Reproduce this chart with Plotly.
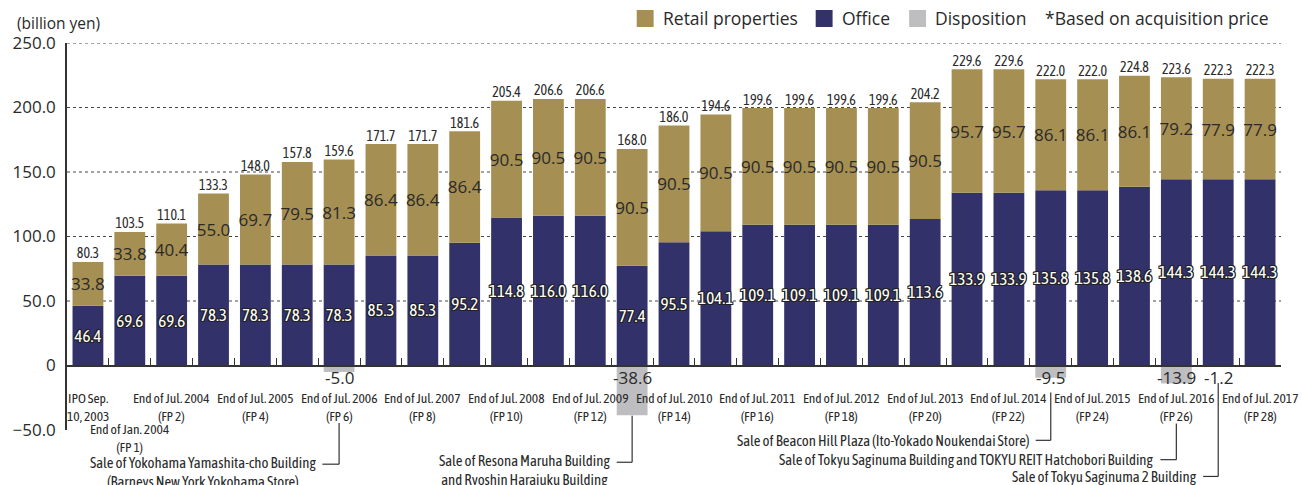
import plotly.graph_objects as go

# ---------------------------------------------------------------- data
periods = [
    "IPO Sep.<br>10, 2003",
    "End of Jan. 2004<br>(FP 1)",
    "End of Jul. 2004<br>(FP 2)",
    "End of Jan. 2005<br>(FP 3)",
    "End of Jul. 2005<br>(FP 4)",
    "End of Jan. 2006<br>(FP 5)",
    "End of Jul. 2006<br>(FP 6)",
    "End of Jan. 2007<br>(FP 7)",
    "End of Jul. 2007<br>(FP 8)",
    "End of Jan. 2008<br>(FP 9)",
    "End of Jul. 2008<br>(FP 10)",
    "End of Jan. 2009<br>(FP 11)",
    "End of Jul. 2009<br>(FP 12)",
    "End of Jan. 2010<br>(FP 13)",
    "End of Jul. 2010<br>(FP 14)",
    "End of Jan. 2011<br>(FP 15)",
    "End of Jul. 2011<br>(FP 16)",
    "End of Jan. 2012<br>(FP 17)",
    "End of Jul. 2012<br>(FP 18)",
    "End of Jan. 2013<br>(FP 19)",
    "End of Jul. 2013<br>(FP 20)",
    "End of Jan. 2014<br>(FP 21)",
    "End of Jul. 2014<br>(FP 22)",
    "End of Jan. 2015<br>(FP 23)",
    "End of Jul. 2015<br>(FP 24)",
    "End of Jan. 2016<br>(FP 25)",
    "End of Jul. 2016<br>(FP 26)",
    "End of Jan. 2017<br>(FP 27)",
    "End of Jul. 2017<br>(FP 28)",
]

office = [46.4, 69.6, 69.6, 78.3, 78.3, 78.3, 78.3, 85.3, 85.3, 95.2,
          114.8, 116.0, 116.0, 77.4, 95.5, 104.1, 109.1, 109.1, 109.1, 109.1,
          113.6, 133.9, 133.9, 135.8, 135.8, 138.6, 144.3, 144.3, 144.3]

retail = [33.8, 33.8, 40.4, 55.0, 69.7, 79.5, 81.3, 86.4, 86.4, 86.4,
          90.5, 90.5, 90.5, 90.5, 90.5, 90.5, 90.5, 90.5, 90.5, 90.5,
          90.5, 95.7, 95.7, 86.1, 86.1, 86.1, 79.2, 77.9, 77.9]

totals = [80.3, 103.5, 110.1, 133.3, 148.0, 157.8, 159.6, 171.7, 171.7, 181.6,
          205.4, 206.6, 206.6, 168.0, 186.0, 194.6, 199.6, 199.6, 199.6, 199.6,
          204.2, 229.6, 229.6, 222.0, 222.0, 224.8, 223.6, 222.3, 222.3]

disp_periods = [periods[6], periods[13], periods[23], periods[26], periods[27]]
disp_values = [-5.0, -38.6, -9.5, -13.9, -1.2]

callout_texts = [
    "Sale of Yokohama Yamashita-cho Building<br>(Barneys New York Yokohama Store)",
    "Sale of Resona Maruha Building<br>and Ryoshin Harajuku Building",
    "Sale of Beacon Hill Plaza (Ito-Yokado Noukendai Store)",
    "Sale of Tokyu Saginuma Building and TOKYU REIT Hatchobori Building",
    "Sale of Tokyu Saginuma 2 Building",
]

y_ticks = [-50, 0, 50, 100, 150, 200, 250]
y_tick_text = ["\u221250.0", "0", "50.0", "100.0", "150.0", "200.0", "250.0"]
grid_values = [50, 100, 150, 200, 250]

# ---------------------------------------------------------------- styling
GOLD = "#A68F52"
NAVY = "#32316A"
GREY = "#BEBEC1"
INK = "#2A2A2A"
MAIN = "Open Sans, Noto Sans, sans-serif"
NARROW = "Asap Condensed, Roboto Condensed, Archivo Narrow, sans-serif"
OUTLINE = ("1px 1px 0 #222, -1px -1px 0 #222, 1px -1px 0 #222, -1px 1px 0 #222, "
           "0 1px 0 #222, 0 -1px 0 #222, 1px 0 0 #222, -1px 0 0 #222")

W, H = 1302, 485
M = dict(l=60, r=21, t=43, b=55)
Y_MIN, Y_MAX = -50, 250


def paper_y(v):
    """Convert a value on the y scale into a paper fraction (not range-clipped)."""
    return (v - Y_MIN) / (Y_MAX - Y_MIN)


def px_x(px):
    """Horizontal page pixel -> paper fraction."""
    return (px - M["l"]) / (W - M["l"] - M["r"])


def px_y(py):
    """Vertical page pixel (from top) -> paper fraction."""
    return (H - M["b"] - py) / (H - M["t"] - M["b"])


fig = go.Figure()

fig.add_trace(go.Bar(
    name="Office", x=periods, y=office, marker=dict(color=NAVY, line=dict(width=0)),
    text=[f"{v:.1f}" for v in office], textposition="inside",
    insidetextanchor="middle", textangle=0, constraintext="none",
    textfont=dict(family=NARROW, size=17, color="white", shadow=OUTLINE),
    hoverinfo="skip",
))
fig.add_trace(go.Bar(
    name="Retail properties", x=periods, y=retail, marker=dict(color=GOLD, line=dict(width=0)),
    text=[f"{v:.1f}" for v in retail], textposition="inside",
    insidetextanchor="middle", textangle=0, constraintext="none",
    textfont=dict(family=MAIN, size=17, color=INK),
    hoverinfo="skip",
))
fig.add_trace(go.Bar(
    name="Disposition", x=disp_periods, y=disp_values,
    marker=dict(color=GREY, line=dict(width=0)),
    hoverinfo="skip",
))
# totals above each stack
fig.add_trace(go.Scatter(
    name="Total", x=periods, y=totals, mode="text", text=[f"{v:.1f}" for v in totals],
    textposition="top center", textfont=dict(family=NARROW, size=14, color=INK),
    cliponaxis=False, hoverinfo="skip",
))

annotations = []
shapes = []

# dotted horizontal grid behind the bars
for g in grid_values:
    shapes.append(dict(type="line", xref="paper", yref="y", x0=0, x1=1, y0=g, y1=g,
                       line=dict(color="#444", width=1, dash="3px,3px"), layer="below"))

# period labels under the zero line (every second period; FP 1 sits one row lower)
label_font = dict(family=NARROW, size=13.5, color=INK)
for i, p in enumerate(periods):
    if i % 2 == 0:
        annotations.append(dict(x=p, y=paper_y(-32), xref="x", yref="paper", text=p,
                                showarrow=False, yanchor="middle", align="center",
                                font=label_font))
annotations.append(dict(x=periods[1], y=paper_y(-56), xref="x", yref="paper", text=periods[1],
                        showarrow=False, yanchor="middle", align="center", font=label_font))

# disposition amounts just below the axis
for p, v in zip(disp_periods, disp_values):
    annotations.append(dict(x=p, y=paper_y(-9.5), xref="x", yref="paper", text=f"-{abs(v):.1f}",
                            showarrow=False, yanchor="middle",
                            font=dict(family=MAIN, size=17, color=INK)))

# callouts with elbow leader lines: (line start, elbow level, horizontal reach)
callout_geometry = [(-44.5, -76.5, 0.40), (-39.0, -75.0, 0.37), (-21.0, -58.0, 0.36),
                    (-45.0, -73.0, 0.38), (-13.5, -86.0, 0.36)]
for text, p, (top, elbow, reach) in zip(callout_texts, disp_periods, callout_geometry):
    idx = periods.index(p)
    shapes.append(dict(type="line", xref="x", yref="paper", x0=idx, x1=idx,
                       y0=paper_y(top), y1=paper_y(elbow), line=dict(color="#333", width=1.2)))
    shapes.append(dict(type="line", xref="x", yref="paper", x0=idx - reach, x1=idx,
                       y0=paper_y(elbow), y1=paper_y(elbow), line=dict(color="#333", width=1.2)))
    n_lines = text.count("<br>") + 1
    annotations.append(dict(x=idx - reach - 0.1, y=paper_y(elbow), xref="x", yref="paper",
                            text=text, showarrow=False, xanchor="right", yanchor="middle",
                            align="center", yshift=-8 * (n_lines - 1),
                            font=dict(family=NARROW, size=14.8, color=INK)))

# legend row across the top margin: square swatch + series name, then the footnote
legend_font = dict(family=MAIN, size=17.5, color=INK)
legend_traces = [fig.data[1], fig.data[0], fig.data[2]]
legend_slots = [633, 813, 907]          # left edge of each swatch, page pixels
for trace, left in zip(legend_traces, legend_slots):
    shapes.append(dict(type="rect", xref="paper", yref="paper",
                       x0=px_x(left), x1=px_x(left + 17), y0=px_y(27), y1=px_y(10),
                       fillcolor=trace.marker.color, line=dict(width=0)))
    annotations.append(dict(x=px_x(left + 24), y=px_y(18.5), xref="paper", yref="paper",
                            text=trace.name, showarrow=False, xanchor="left",
                            yanchor="middle", font=legend_font))
annotations.append(dict(x=px_x(1042), y=px_y(18.5), xref="paper", yref="paper",
                        text="*Based on acquisition price", showarrow=False,
                        xanchor="left", yanchor="middle", font=legend_font))

# unit label
annotations.append(dict(x=px_x(8), y=px_y(23), xref="paper", yref="paper",
                        text="(billion yen)", showarrow=False, xanchor="left", yanchor="middle",
                        font=dict(family=MAIN, size=15.5, color=INK)))

fig.update_layout(
    width=W, height=H,
    margin=M,
    barmode="relative", bargap=0.264,
    plot_bgcolor="white", paper_bgcolor="white",
    showlegend=False,
    xaxis=dict(type="category", categoryorder="array", categoryarray=periods,
               range=[-0.5, len(periods) - 0.5], anchor="free",
               position=paper_y(0), showline=True, linecolor="#333", linewidth=1.5,
               ticks="inside", tickson="boundaries", ticklen=7, tickcolor="#333",
               tickwidth=1, showticklabels=False, showgrid=False, zeroline=False),
    yaxis=dict(range=[Y_MIN, Y_MAX], tickvals=y_ticks, ticktext=y_tick_text,
               showgrid=False, zeroline=False, showline=True, linecolor="#333",
               linewidth=1.5, ticks="", ticklabelstandoff=6,
               tickfont=dict(family=MAIN, size=17, color=INK)),
    annotations=annotations,
    shapes=shapes,
)

fig.write_html("out.html")
